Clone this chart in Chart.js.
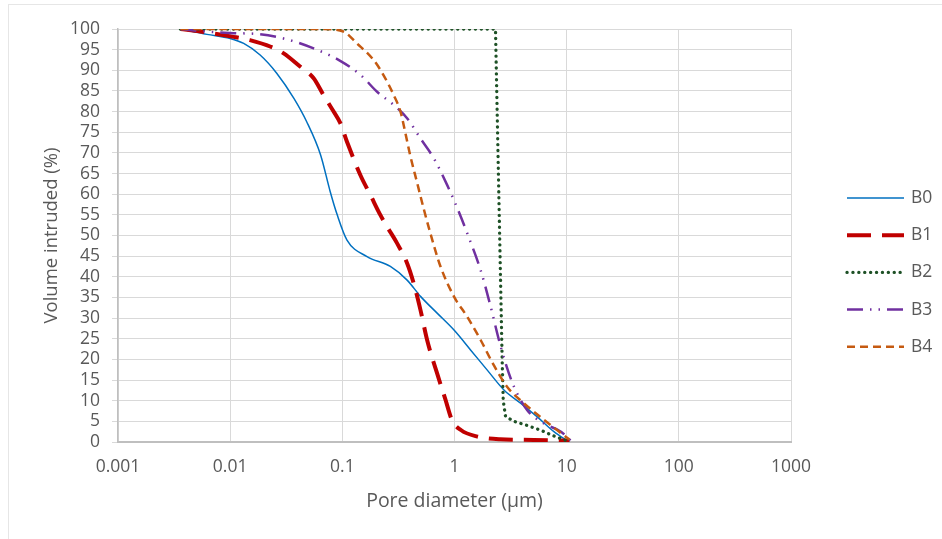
<!DOCTYPE html>
<html>
<head>
<meta charset="utf-8">
<script src="https://cdn.jsdelivr.net/npm/chart.js@4.4.1/dist/chart.umd.min.js"></script>
<style>
  html, body { margin: 0; padding: 0; background: #ffffff; }
  #wrap { position: relative; width: 942px; height: 539px; overflow: hidden; }
  #frame { position: absolute; left: 8px; top: 4px; width: 1000px; height: 600px; border: 1px solid #e6e6e6; box-sizing: border-box; }
  canvas { position: absolute; left: 0; top: 0; }
</style>
</head>
<body>
<div id="wrap">
  <div id="frame"></div>
  <canvas id="c" width="942" height="539"></canvas>
</div>
<script>
// ---- Data (pore diameter in µm, volume intruded in %) ----
const seriesNames = ['B0', 'B1', 'B2', 'B3', 'B4'];
const xTickValues = [0.001, 0.01, 0.1, 1, 10, 100, 1000];
const xTickLabels = ['0.001', '0.01', '0.1', '1', '10', '100', '1000'];

const b0Diam = [0.0036, 0.0062, 0.01, 0.0132, 0.0185, 0.026, 0.037, 0.048, 0.064, 0.078, 0.09, 0.11, 0.166, 0.268, 0.378, 0.5, 0.7, 0.99, 1.39, 1.96, 2.76, 3.88, 5.47, 7.7, 10.5];
const b0Vol  = [100, 98.7, 97.7, 96.5, 93.7, 89.3, 83.2, 77.6, 69.5, 60.6, 55, 48.9, 44.9, 42.5, 39.2, 35.2, 31.2, 27.1, 22.3, 17.4, 12.6, 9.4, 6.1, 2.5, 0];

const b1Diam = [0.0036, 0.0054, 0.0107, 0.015, 0.023, 0.03, 0.042, 0.0555, 0.068, 0.0836, 0.096, 0.11, 0.145, 0.178, 0.218, 0.251, 0.308, 0.378, 0.433, 0.497, 0.57, 0.70, 0.832, 0.95, 1.14, 1.6, 2.56, 5.1, 10.6];
const b1Vol  = [100, 99.4, 98.1, 97.3, 95.7, 94.1, 90.9, 88.1, 84, 80, 77.2, 72.7, 64.6, 59.8, 55, 52.1, 48.1, 43.3, 38.4, 32, 24.7, 16.6, 10.2, 5.3, 2.9, 1.3, 0.65, 0.5, 0.3];

const b2Diam = [0.0036, 2.32, 2.49, 2.66, 2.72, 2.85, 3.39, 4.45, 5.8, 7.7, 10.0];
const b2Vol  = [100, 100, 58.6, 19.9, 10, 6.2, 5.0, 4.0, 2.9, 1.45, 0.3];

const b3Diam = [0.0036, 0.0054, 0.0107, 0.0173, 0.032, 0.0555, 0.0957, 0.145, 0.204, 0.287, 0.378, 0.497, 0.654, 0.861, 1.09, 1.30, 1.71, 2.1, 2.49, 2.86, 3.39, 4.45, 6.27, 8.9, 10.9];
const b3Vol  = [100, 99.5, 99, 98.8, 97.5, 95.3, 92.3, 88.9, 84.8, 81.6, 78.4, 73.5, 68.7, 62.2, 55.8, 50.5, 41.6, 32.8, 24.7, 19, 13.4, 7.7, 4.5, 2.5, 0.3];

const b4Diam = [0.0036, 0.068, 0.102, 0.135, 0.19, 0.232, 0.287, 0.33, 0.363, 0.402, 0.462, 0.53, 0.61, 0.75, 0.99, 1.30, 1.71, 2.2, 2.94, 4.15, 5.8, 8.2, 10.6];
const b4Vol  = [100, 100, 99.4, 96.5, 92.5, 88.9, 84, 80, 75.1, 69.5, 63, 56.6, 50.5, 42.5, 35.2, 30.3, 24.7, 19, 13.4, 9.4, 6.1, 2.9, 0.6];

// ---- Build chart ----
const FONT = "'Open Sans', 'Liberation Sans', sans-serif";
const TEXT = '#595959';
const pts = (xs, ys) => xs.map((x, i) => ({ x: x, y: ys[i] }));

const sideLegend = {
  id: 'sideLegend',
  afterDraw(chart) {
    const ctx = chart.ctx;
    const top = 198, step = 37.2, x0 = 847, x1 = 904, tx = 911;
    chart.data.datasets.forEach((ds, i) => {
      const y = top + i * step;
      ctx.save();
      ctx.strokeStyle = ds.borderColor;
      ctx.lineWidth = ds.borderWidth;
      ctx.lineCap = ds.borderCapStyle || 'butt';
      ctx.setLineDash(ds.borderDash || []);
      ctx.beginPath();
      ctx.moveTo(x0, y);
      ctx.lineTo(x1, y);
      ctx.stroke();
      ctx.setLineDash([]);
      ctx.fillStyle = TEXT;
      ctx.font = '17.5px ' + FONT;
      ctx.textAlign = 'left';
      ctx.textBaseline = 'middle';
      ctx.fillText(ds.label, tx, y);
      ctx.restore();
    });
  }
};

new Chart(document.getElementById('c'), {
  type: 'line',
  data: {
    datasets: [
      { label: seriesNames[0], data: pts(b0Diam, b0Vol), borderColor: '#0070C0', borderWidth: 1.5,
        cubicInterpolationMode: 'monotone', pointRadius: 0, order: 5 },
      { label: seriesNames[1], data: pts(b1Diam, b1Vol), borderColor: '#C00000', borderWidth: 4,
        borderDash: [24, 11], cubicInterpolationMode: 'monotone', pointRadius: 0, order: 4 },
      { label: seriesNames[2], data: pts(b2Diam, b2Vol), borderColor: '#1E5126', borderWidth: 3.3,
        borderDash: [0.1, 5.8], borderCapStyle: 'round', tension: 0, pointRadius: 0, order: 3 },
      { label: seriesNames[3], data: pts(b3Diam, b3Vol), borderColor: '#7030A0', borderWidth: 2.5,
        borderDash: [16, 7, 1.5, 7, 1.5, 7], cubicInterpolationMode: 'monotone', pointRadius: 0, order: 2 },
      { label: seriesNames[4], data: pts(b4Diam, b4Vol), borderColor: '#C55A11', borderWidth: 2.5,
        borderDash: [8, 5], cubicInterpolationMode: 'monotone', pointRadius: 0, order: 1 }
    ]
  },
  options: {
    responsive: false,
    animation: false,
    layout: { padding: { left: 0, right: 151, top: 29, bottom: 0 } },
    plugins: { legend: { display: false }, tooltip: { enabled: false } },
    scales: {
      x: {
        type: 'logarithmic',
        min: 0.001, max: 1000,
        afterBuildTicks: (s) => { s.ticks = xTickValues.map(v => ({ value: v, major: true })); },
        afterFit: (s) => { s.height = 97; },
        ticks: {
          autoSkip: false, maxRotation: 0, padding: 15, color: TEXT,
          font: { family: FONT, size: 17.5 },
          callback: (v, i) => xTickLabels[i]
        },
        grid: { color: '#D9D9D9', lineWidth: 1, drawTicks: false },
        border: { color: '#BFBFBF', width: 2 },
        title: { display: true, text: 'Pore diameter (µm)', color: TEXT,
                 font: { family: FONT, size: 19.5 }, padding: { top: 0, bottom: 26 } }
      },
      y: {
        min: 0, max: 100,
        afterFit: (s) => { s.width = 118; },
        ticks: { stepSize: 5, autoSkip: false, padding: 12, color: TEXT, font: { family: FONT, size: 17.5 } },
        grid: { color: '#D9D9D9', lineWidth: 1, tickLength: 6, drawTicks: true },
        border: { color: '#BFBFBF', width: 1.5 },
        title: { display: true, text: 'Volume intruded (%)', color: TEXT,
                 font: { family: FONT, size: 18.5 }, padding: { top: 41, bottom: 0 } }
      }
    }
  },
  plugins: [sideLegend]
});
</script>
</body>
</html>
